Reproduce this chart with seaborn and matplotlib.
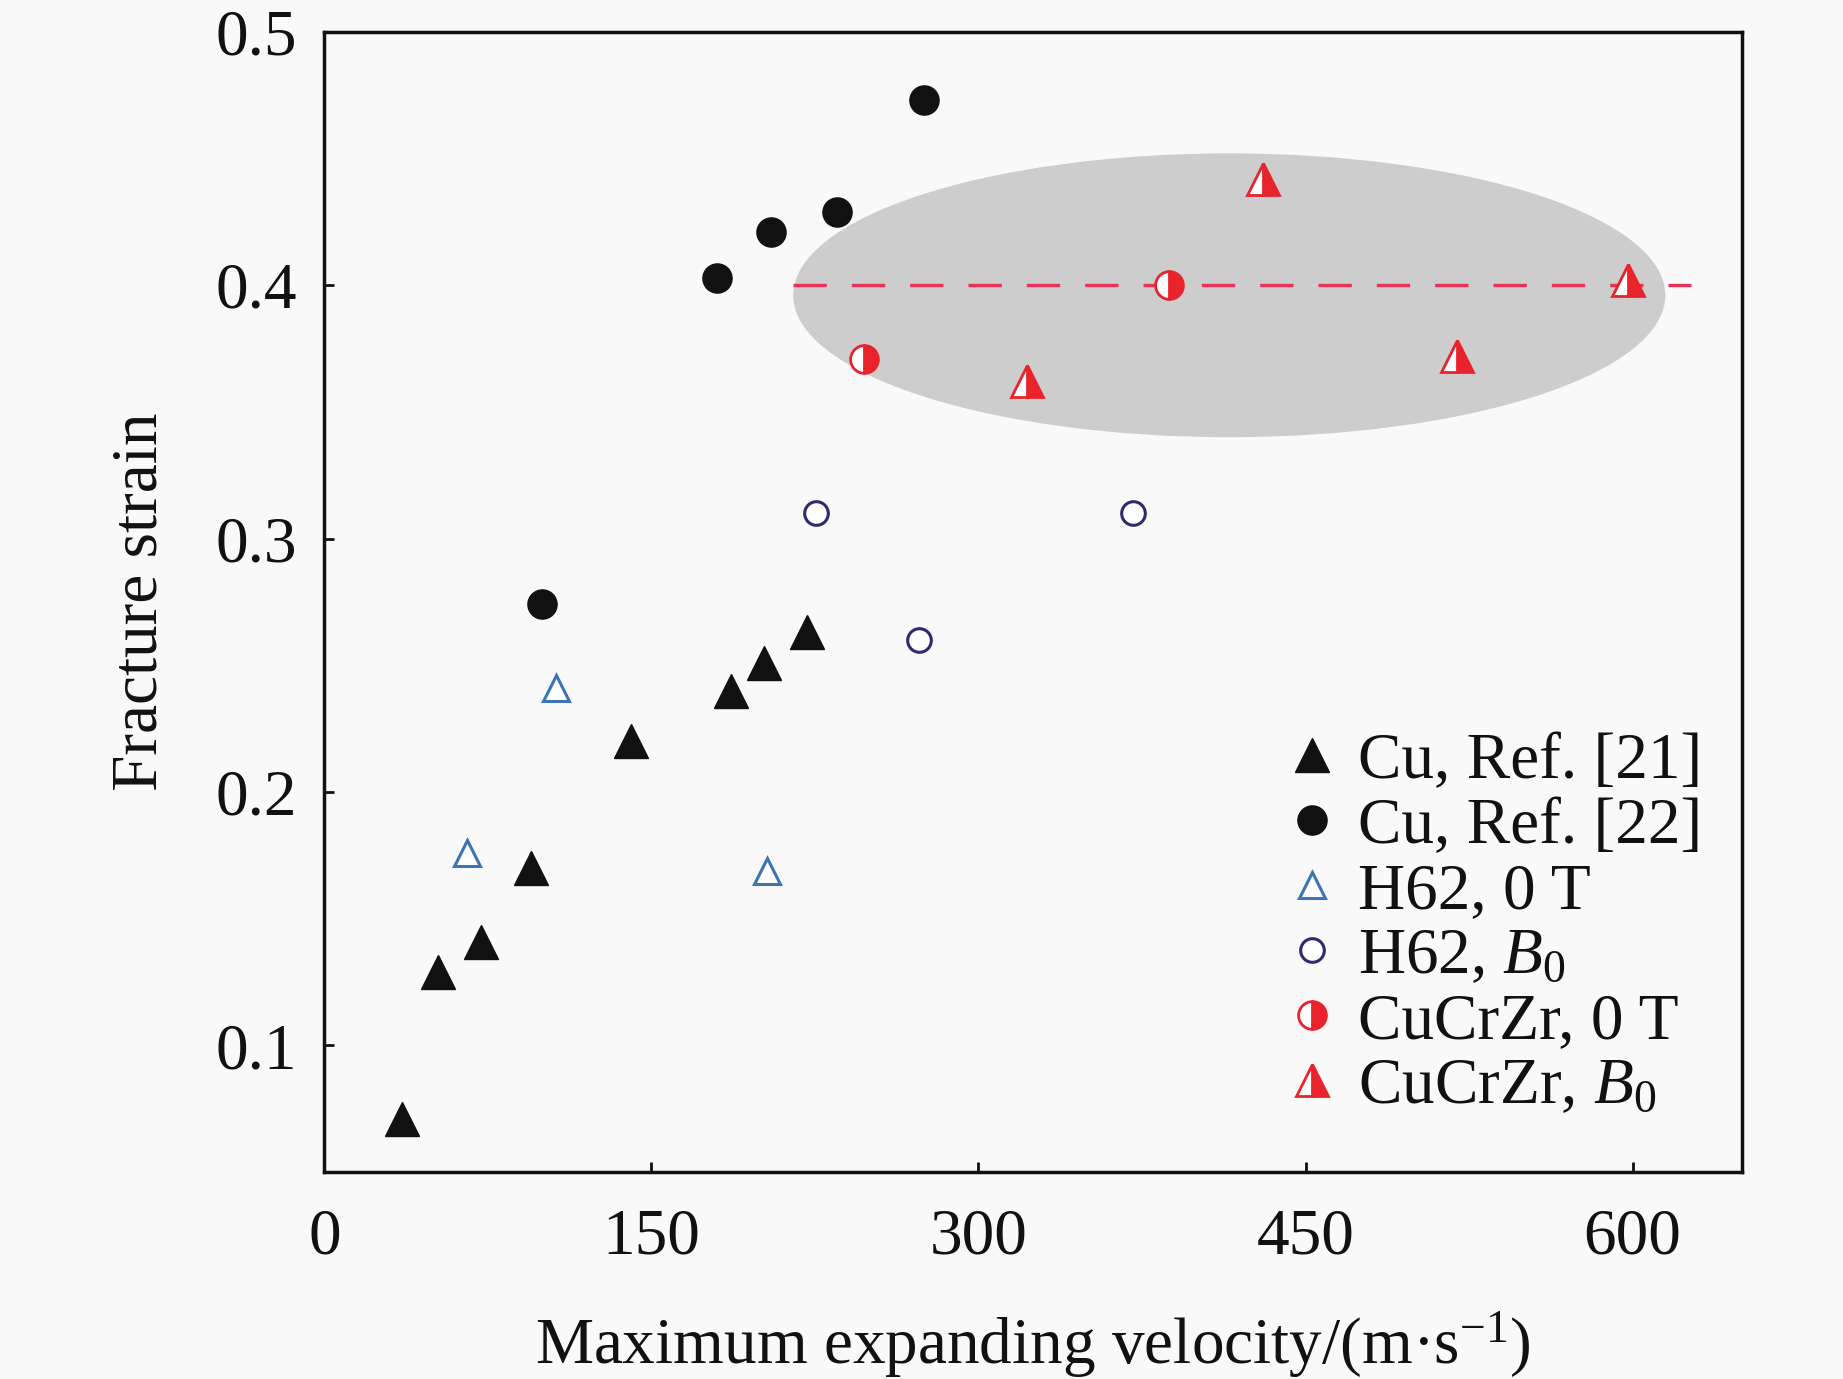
import numpy as np
import pandas as pd
import matplotlib
matplotlib.use("Agg")
import matplotlib.pyplot as plt
from matplotlib.patches import Ellipse
from matplotlib.lines import Line2D
import seaborn as sns

# ---------------- data ----------------
cu21_x = [35.6, 52.3, 71.7, 94.9, 140.7, 186.5, 201.6, 221.5]
cu21_y = [0.071, 0.129, 0.141, 0.170, 0.220, 0.240, 0.251, 0.263]

cu22_x = [99.7, 180.0, 204.8, 235.0, 274.9]
cu22_y = [0.274, 0.403, 0.421, 0.429, 0.473]

h62_0t_x = [65.2, 106.2, 203.2]
h62_0t_y = [0.176, 0.241, 0.169]

h62_b0_x = [225.3, 272.7, 370.8]
h62_b0_y = [0.310, 0.260, 0.310]

cucrzr_0t_x = [247.4, 387.5]
cucrzr_0t_y = [0.371, 0.400]

cucrzr_b0_x = [322.3, 430.7, 519.6, 597.7]
cucrzr_b0_y = [0.362, 0.442, 0.372, 0.402]

ref_line_x = [215, 627]
ref_line_y = [0.4, 0.4]

labels = ["Cu, Ref. [21]", "Cu, Ref. [22]", "H62, 0 T", r"H62, $B_0$",
          "CuCrZr, 0 T", r"CuCrZr, $B_0$"]
xticks = [0, 150, 300, 450, 600]
yticks = [0.1, 0.2, 0.3, 0.4, 0.5]

# ---------------- style ----------------
sns.set_theme(style="white")
plt.rcParams["font.family"] = ["Liberation Serif", "DejaVu Serif"]
plt.rcParams["mathtext.fontset"] = "custom"
plt.rcParams["mathtext.rm"] = "Liberation Serif"
plt.rcParams["mathtext.it"] = "Liberation Serif:italic"
plt.rcParams["mathtext.bf"] = "Liberation Serif:bold"

bg = "#f9f9f9"
fig = plt.figure(figsize=(18.43, 13.79), dpi=100, facecolor=bg)
ax = fig.add_axes([0.176, 0.150, 0.769, 0.827])
ax.set_facecolor(bg)

red = "#e8232c"
blue = "#3c74b4"
navy = "#2e2a72"

# ellipse highlight region
ell = Ellipse((415, 0.396), 400, 0.112, facecolor="#cdcdcd", edgecolor="none", zorder=0)
ax.add_patch(ell)

# dashed reference line
sns.lineplot(x=ref_line_x, y=ref_line_y, ax=ax, color="#e8325a", lw=2.4,
             linestyle=(0, (10, 7.5)), zorder=1)

common = dict(ax=ax, linestyle="none", estimator=None, sort=False, zorder=3)

sns.lineplot(x=cu21_x, y=cu21_y, marker="^", markersize=24, color="#111111",
             markerfacecolor="#111111", markeredgecolor="#111111", mew=1, **common)
sns.lineplot(x=cu22_x, y=cu22_y, marker="o", markersize=21, color="#111111",
             markerfacecolor="#111111", markeredgecolor="#111111", mew=1, **common)
sns.lineplot(x=h62_0t_x, y=h62_0t_y, marker="^", markersize=19, color=blue,
             markerfacecolor="white", markeredgecolor=blue, mew=2.2, **common)
sns.lineplot(x=h62_b0_x, y=h62_b0_y, marker="o", markersize=17, color=navy,
             markerfacecolor="white", markeredgecolor=navy, mew=2.2, **common)
sns.lineplot(x=cucrzr_0t_x, y=cucrzr_0t_y, marker="o", markersize=20, color=red,
             fillstyle="right", markerfacecolor=red, markerfacecoloralt="white",
             markeredgecolor=red, mew=2, **common)
sns.lineplot(x=cucrzr_b0_x, y=cucrzr_b0_y, marker="^", markersize=23, color=red,
             fillstyle="right", markerfacecolor=red, markerfacecoloralt="white",
             markeredgecolor=red, mew=2, **common)

# axes
ax.set_xlim(0, 650)
ax.set_ylim(0.05, 0.5)
ax.set_xticks(xticks)
ax.set_yticks(yticks)
ax.set_xticklabels([str(v) for v in xticks])
ax.set_yticklabels([f"{v:.1f}" for v in yticks])
ax.tick_params(axis="both", direction="in", length=7, width=2, labelsize=47,
               colors="#111111", bottom=True, left=True, top=False, right=False)
ax.tick_params(axis="x", pad=26)
ax.tick_params(axis="y", pad=20)
for s in ax.spines.values():
    s.set_visible(True)
    s.set_linewidth(2.5)
    s.set_color("#111111")

ax.set_xlabel("Maximum expanding velocity/(m·s$^{-1}$)", fontsize=47, labelpad=30, color="#111111")
ax.set_ylabel("Fracture strain", fontsize=47, labelpad=32, color="#111111")

# legend
handles = [
    Line2D([], [], linestyle="none", marker="^", markersize=24, color="#111111"),
    Line2D([], [], linestyle="none", marker="o", markersize=21, color="#111111"),
    Line2D([], [], linestyle="none", marker="^", markersize=19, markerfacecolor="white",
           markeredgecolor=blue, mew=2.2),
    Line2D([], [], linestyle="none", marker="o", markersize=17, markerfacecolor="white",
           markeredgecolor=navy, mew=2.2),
    Line2D([], [], linestyle="none", marker="o", markersize=20, fillstyle="right",
           markerfacecolor=red, markerfacecoloralt="white", markeredgecolor=red, mew=2),
    Line2D([], [], linestyle="none", marker="^", markersize=23, fillstyle="right",
           markerfacecolor=red, markerfacecoloralt="white", markeredgecolor=red, mew=2),
]
leg = ax.legend(handles, labels, loc="lower right", bbox_to_anchor=(0.995, 0.02),
                frameon=False, fontsize=47, handlelength=0.8, handletextpad=0.3,
                labelspacing=0.08, borderpad=0.2, borderaxespad=0.3)
for t in leg.get_texts():
    t.set_color("#111111")

fig.savefig("out.png", dpi=100, facecolor=bg)
